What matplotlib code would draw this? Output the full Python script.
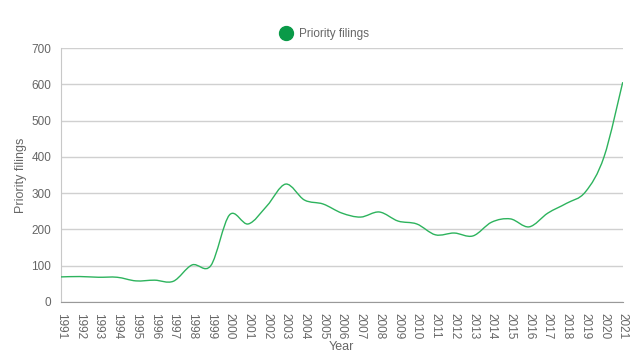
import matplotlib
matplotlib.use("Agg")
import matplotlib.pyplot as plt
import numpy as np
from matplotlib.path import Path
from matplotlib.patches import PathPatch
from matplotlib.lines import Line2D

plt.rcParams['font.family'] = ['Liberation Sans', 'DejaVu Sans']

years = list(range(1991, 2022))
filings = [69, 70, 68, 68, 58, 60, 57, 102, 100, 240, 215, 265, 325, 281, 270,
           245, 234, 248, 223, 215, 185, 190, 182, 220, 229, 207, 245, 272, 303,
           400, 606]

line_color = '#2db35d'
text_color = '#666666'

fig = plt.figure(figsize=(6.42, 3.59), dpi=100)
ax = fig.add_axes([0.095, 0.159, 0.875, 0.707])

# smooth curve through the points (Catmull-Rom as cubic bezier segments)
x = np.array(years, dtype=float)
y = np.array(filings, dtype=float)
verts = [(x[0], y[0])]
codes = [Path.MOVETO]
n = len(x)
for i in range(n - 1):
    x0, y0 = (x[i - 1], y[i - 1]) if i > 0 else (x[i], y[i])
    x3, y3 = (x[i + 2], y[i + 2]) if i + 2 < n else (x[i + 1], y[i + 1])
    c1 = (x[i] + (x[i + 1] - x0) / 6, y[i] + (y[i + 1] - y0) / 6)
    c2 = (x[i + 1] - (x3 - x[i]) / 6, y[i + 1] - (y3 - y[i]) / 6)
    verts += [c1, c2, (x[i + 1], y[i + 1])]
    codes += [Path.CURVE4] * 3
ax.add_patch(PathPatch(Path(verts, codes), fill=False, edgecolor=line_color, lw=1.0, zorder=3))

ax.set_xlim(1991, 2021)
ax.set_ylim(0, 700)
ax.set_xticks(years)
ax.set_xticklabels([str(v) for v in years], rotation=270, fontsize=8.5, color=text_color)
ax.set_yticks(range(0, 701, 100))
ax.tick_params(axis='y', labelsize=8.5, colors=text_color, length=0, pad=7)
ax.tick_params(axis='x', length=0, pad=8)
ax.grid(axis='y', color='#d0d0d0', lw=1)
ax.set_axisbelow(True)
for s in ['top', 'right']:
    ax.spines[s].set_visible(False)
ax.spines['left'].set_color('#c8c8c8')
ax.spines['bottom'].set_color('#999999')

ax.set_xlabel('Year', fontsize=9, color=text_color, labelpad=1)
ax.set_ylabel('Priority filings', fontsize=9, color=text_color, labelpad=3)

handle = Line2D([], [], marker='o', color='none', markerfacecolor='#0a9a48',
                markeredgecolor='#0a9a48', markersize=10)
fig.legend([handle], ['Priority filings'], loc='center', bbox_to_anchor=(0.505, 0.906),
           frameon=False, fontsize=8.5, labelcolor=text_color, handletextpad=0.5,
           handlelength=1.2)

fig.savefig('out.png', dpi=100)
